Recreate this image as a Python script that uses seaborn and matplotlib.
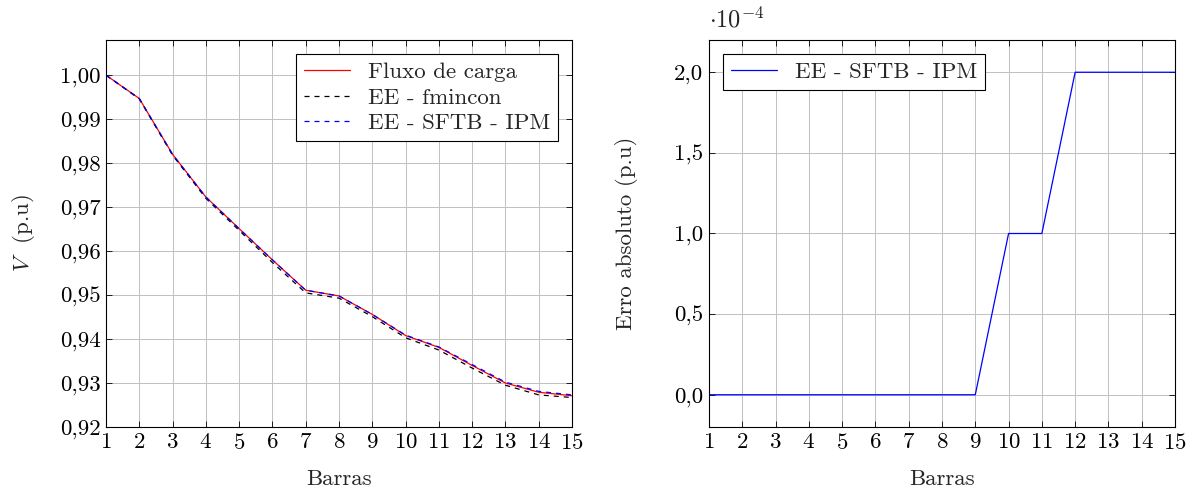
import numpy as np
import pandas as pd
import matplotlib
matplotlib.use("Agg")
import matplotlib.pyplot as plt
from matplotlib.ticker import FuncFormatter, MultipleLocator
import seaborn as sns

barras = list(range(1, 16))
v_fluxo = [1.000, 0.9947, 0.9820, 0.9723, 0.9651, 0.9580, 0.9511, 0.9498,
           0.9456, 0.9408, 0.9381, 0.9340, 0.9300, 0.9279, 0.9271]
v_fmincon = [1.000, 0.9946, 0.9818, 0.9720, 0.9647, 0.9574, 0.9505, 0.9493,
             0.9451, 0.9403, 0.9375, 0.9334, 0.9295, 0.9273, 0.9267]
erro_ipm = [0, 0, 0, 0, 0, 0, 0, 0, 0, 1e-4, 1e-4, 2e-4, 2e-4, 2e-4, 2e-4]
v_ipm = [a + b for a, b in zip(v_fluxo, erro_ipm)]

sns.set_theme(style="ticks")
FS = 16.5
plt.rcParams.update({
    "font.family": ["cmr10", "DejaVu Serif"],
    "mathtext.fontset": "cm",
    "axes.formatter.use_mathtext": True,
    "axes.unicode_minus": False,
    "font.size": FS,
    "axes.edgecolor": "black",
    "axes.linewidth": 0.8,
    "xtick.direction": "in",
    "ytick.direction": "in",
    "xtick.top": True,
    "ytick.right": True,
    "xtick.color": "black",
    "ytick.color": "black",
})

fig = plt.figure(figsize=(11.96, 4.96), dpi=100)
ax1 = fig.add_axes([106/1196, 1-427/496, 466/1196, 387/496])
ax2 = fig.add_axes([709/1196, 1-427/496, 466/1196, 387/496])

df = pd.DataFrame({"Barras": barras, "fluxo": v_fluxo, "fmincon": v_fmincon,
                   "ipm": v_ipm, "erro": erro_ipm})

lw = 0.9
sns.lineplot(data=df, x="Barras", y="fluxo", ax=ax1, color="red", lw=lw,
             label="Fluxo de carga")
sns.lineplot(data=df, x="Barras", y="fmincon", ax=ax1, color="black", lw=lw,
             linestyle=(0, (4, 4)), label="EE - fmincon")
sns.lineplot(data=df, x="Barras", y="ipm", ax=ax1, color="blue", lw=lw,
             linestyle=(0, (4, 4)), label="EE - SFTB - IPM")

sns.lineplot(data=df, x="Barras", y="erro", ax=ax2, color="blue", lw=lw,
             label="EE - SFTB - IPM")

comma = lambda fmt: FuncFormatter(lambda v, p: (fmt % v).replace(".", ","))

for ax in (ax1, ax2):
    ax.set_xlim(1, 15)
    ax.xaxis.set_major_locator(MultipleLocator(1))
    ax.grid(True, color="#c0c0c0", lw=0.7)
    ax.set_axisbelow(True)
    ax.set_xlabel("Barras", fontsize=FS, labelpad=12)
    ax.tick_params(labelsize=FS, length=4, width=0.6, pad=4)
    for s in ax.spines.values():
        s.set_color("black")
        s.set_linewidth(0.8)

ax1.set_ylim(0.92, 1.008)
ax1.yaxis.set_major_locator(MultipleLocator(0.01))
ax1.yaxis.set_major_formatter(comma("%.2f"))
ax1.set_ylabel(r"$V$  (p.u)", fontsize=FS, labelpad=16)

ax2.set_ylim(-0.2e-4, 2.2e-4)
ax2.yaxis.set_major_locator(MultipleLocator(0.5e-4))
ax2.yaxis.set_major_formatter(FuncFormatter(lambda v, p: ("%.1f" % (v / 1e-4)).replace(".", ",")))
ax2.set_ylabel("Erro absoluto (p.u)", fontsize=FS, labelpad=26)
ax2.text(0.0, 1.02, r"$\cdot 10^{-4}$", transform=ax2.transAxes,
         ha="left", va="bottom", fontsize=FS + 1)

leg1 = ax1.legend(loc="upper right", fontsize=FS, frameon=True, fancybox=False,
                  framealpha=1, edgecolor="black", handlelength=2.0,
                  borderaxespad=0.6, labelspacing=0.25, borderpad=0.35)
leg1.get_frame().set_linewidth(0.8)
leg2 = ax2.legend(loc="upper left", fontsize=FS, frameon=True, fancybox=False,
                  framealpha=1, edgecolor="black", handlelength=2.0,
                  borderaxespad=0.6, borderpad=0.35)
leg2.get_frame().set_linewidth(0.8)

fig.savefig("out.png", dpi=100)
